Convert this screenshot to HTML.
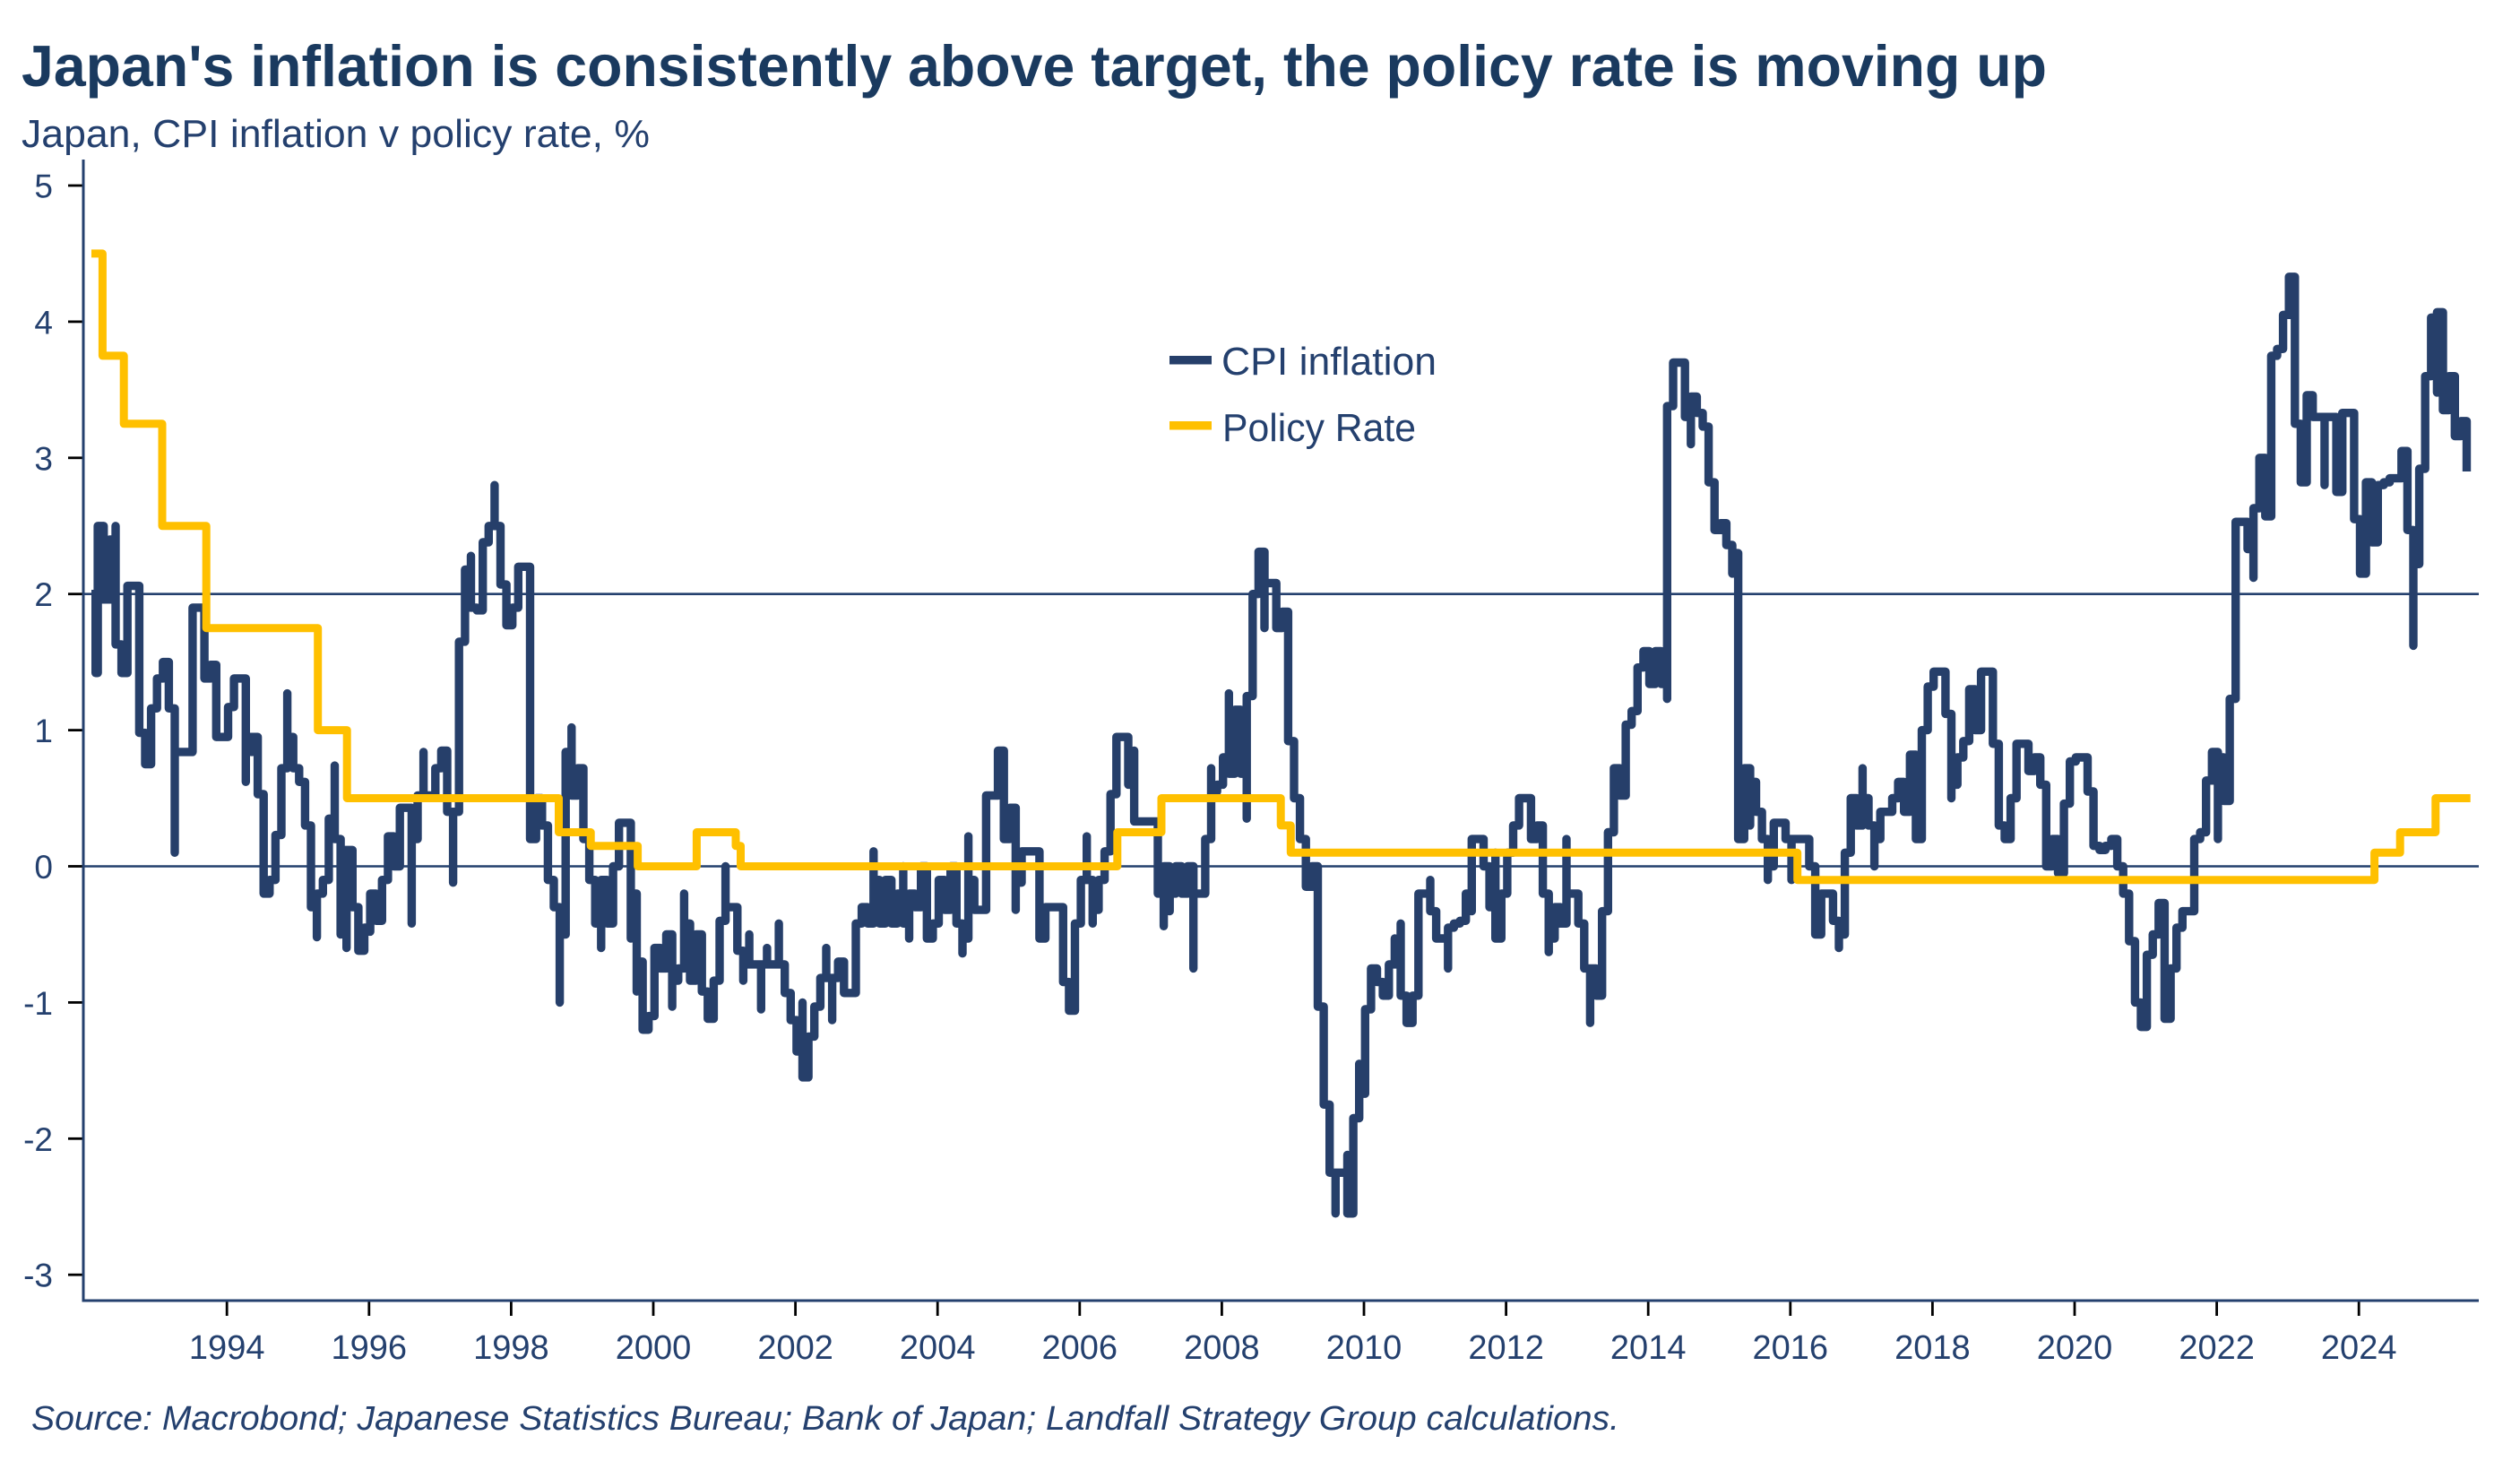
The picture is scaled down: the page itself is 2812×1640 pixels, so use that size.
<!DOCTYPE html>
<html lang="en">
<head>
<meta charset="utf-8">
<title>Japan's inflation is consistently above target</title>
<style>
html,body{margin:0;padding:0;background:#fff;}
body{width:2812px;height:1640px;overflow:hidden;}
svg{display:block;}
text{font-family:"Liberation Sans",sans-serif;fill:#24406e;}
</style>
</head>
<body>
<svg id="chart" width="2812" height="1640" viewBox="0 0 2812 1640" xmlns="http://www.w3.org/2000/svg">
  <rect x="0" y="0" width="2812" height="1640" fill="#ffffff"/>
  <text x="24" y="96" font-size="65" font-weight="700" style="fill:#1a3a5f" textLength="2260" lengthAdjust="spacingAndGlyphs">Japan's inflation is consistently above target, the policy rate is moving up</text>
  <text x="24" y="164" font-size="44" textLength="701" lengthAdjust="spacingAndGlyphs">Japan, CPI inflation v policy rate, %</text>
  <g id="grid"></g>
  <g id="yticks"></g>
  <g id="xticks"></g>
  <line x1="93" y1="178" x2="93" y2="1452.5" stroke="#24406e" stroke-width="3"/>
  <line x1="91.5" y1="1451" x2="2766" y2="1451" stroke="#24406e" stroke-width="3"/>
  <g id="series"></g>
  <g>
    <g>
      <rect x="1305" y="397" width="47" height="9.5" fill="#263f6a"/>
      <text x="1363" y="418" font-size="44" textLength="240" lengthAdjust="spacingAndGlyphs">CPI inflation</text>
    </g>
    <g>
      <rect x="1305" y="470" width="47" height="9.5" fill="#ffc000"/>
      <text x="1364" y="492" font-size="44" textLength="216" lengthAdjust="spacingAndGlyphs">Policy Rate</text>
    </g>
  </g>
  <text x="35" y="1595" font-size="38" font-style="italic" textLength="1772" lengthAdjust="spacingAndGlyphs">Source: Macrobond; Japanese Statistics Bureau; Bank of Japan; Landfall Strategy Group calculations.</text>
</svg>
<script>
// Chart data
const yTickValues = [5, 4, 3, 2, 1, 0, -1, -2, -3];
const referenceValues = [2, 0];
const xTickYears = [1994, 1996, 1998, 2000, 2002, 2004, 2006, 2008, 2010, 2012, 2014, 2016, 2018, 2020, 2022, 2024];

const seriesStartYear = 1992.093;
const cpiFirstYear = 1992.10;
const cpiOpening = 2.0;
// One reading per month
const cpiValues = [
1.42,2.5,1.96,2.4,1.63,1.42,2.06,2.06,.98,.75,
1.16,1.38,1.5,1.16,.84,.84,.84,1.9,1.9,1.38,
1.48,.95,.95,1.17,1.38,1.38,.95,.95,.53,-.2,
-.1,.23,.72,.95,.72,.62,.3,-.3,-.2,-.1,
.35,.2,.12,.12,-.3,-.62,-.45,-.2,-.4,-.1,
.22,0,.43,.43,.2,.52,.52,.52,.72,.85,
.4,.4,1.65,2.18,1.9,1.88,2.38,2.5,2.5,2.07,
1.77,1.9,2.2,2.2,.2,.5,.3,-.1,-.3,-.5,
.84,.52,.72,.2,-.1,-.42,-.1,-.42,0,.32,
.32,-.2,-.7,-1.2,-1.1,-.6,-.75,-.5,-.84,-.75,
-.42,-.84,-.5,-.92,-1.12,-.84,-.4,-.3,-.3,-.62,
-.72,-.72,-.72,-.72,-.72,-.72,-.72,-.93,-1.13,-1.36,
-1.55,-1.25,-1.03,-.82,-.82,-.82,-.7,-.93,-.93,-.42,
-.3,-.42,-.1,-.42,-.1,-.42,-.2,-.42,-.2,-.3,
0,-.53,-.42,-.1,-.32,0,-.42,-.53,-.1,-.32,
-.32,.52,.52,.85,.2,.43,-.12,.11,.11,.11,
-.53,-.3,-.3,-.3,-.85,-1.06,-.42,-.1,-.1,-.32,
-.1,.11,.53,.95,.95,.6,.33,.33,.33,.33,
-.2,0,-.2,0,-.2,0,-.2,-.2,.2,.55,
.6,.8,.68,1.15,.68,1.25,2,2.31,2.08,2.08,
1.75,1.87,.92,.5,.2,-.15,0,-1.03,-1.75,-2.25,
-2.25,-2.25,-2.55,-1.85,-1.67,-1.05,-.75,-.85,-.95,-.72,
-.72,-.95,-1.15,-.95,-.2,-.2,-.33,-.53,-.53,-.45,
-.42,-.4,-.2,.2,.2,0,-.3,-.53,-.2,.1,
.3,.5,.5,.2,.3,-.2,-.53,-.3,-.42,-.2,
-.2,-.42,-.75,-.75,-.95,-.33,.25,.72,.52,1.04,
1.14,1.46,1.58,1.34,1.58,1.34,3.38,3.7,3.7,3.3,
3.45,3.33,3.23,2.82,2.47,2.52,2.36,2.3,.2,.72,
.62,.4,.2,0,.32,.32,.2,.2,.2,.2,
0,-.5,-.2,-.2,-.4,-.5,.1,.5,.3,.5,
.3,.2,.4,.4,.5,.62,.4,.82,.2,1.0,
1.32,1.43,1.43,1.12,.6,.8,.92,1.3,1,1.43,
1.43,.9,.3,.2,.5,.9,.9,.7,.8,.6,
0,.2,-.05,.46,.77,.8,.8,.55,.15,.12,
.15,.2,0,-.2,-.55,-1,-1.18,-.65,-.5,-.27,
-1.12,-.75,-.45,-.33,-.33,.2,.25,.63,.84,.8,
.48,1.23,2.53,2.53,2.33,2.63,3,2.57,3.75,3.8,
4.05,4.33,3.25,2.82,3.46,3.3,3.3,3.3,3.3,2.75,
3.33,3.33,2.55,2.15,2.82,2.38,2.8,2.82,2.85,2.85,
3.05,2.47,2.22,2.92,3.6,4.03,4.07,3.35,3.6,3.16,
3.27,2.9
];
// Brief readings between months: month number, value
const cpiSpikeMonths = [4,14,26,27,33,38,41,42,43,47,54,56,61,64,68,79,81,86,91,92,98,100,107,110,111,113,114,116,120,124,125,132,137,138,147,148,156,168,169,176,181,182,186,189,192,195,198,210,212,213,214,220,221,226,229,233,237,246,249,253,266,270,277,280,283,287,295,299,301,314,359,365,374,377,392,396];
const cpiSpikeValues = [2.5,.1,.62,.84,1.27,-.52,.74,-.5,-.6,-.48,-.42,.84,-.12,2.28,2.8,-1,1.02,-.6,-.53,-.92,-1.03,-.2,0,-.84,-.5,-1.05,-.6,-.42,-1,-.6,-1.13,.11,0,-.53,-.64,.22,-.32,.22,-.42,.85,-.44,-.33,-.75,.72,1.27,.35,1.75,-2.55,-2.12,-2.55,-1.45,-.53,-.42,-.1,-.75,-.33,.1,-.63,.2,-1.15,1.23,3.1,2.15,.3,-.1,-.1,-.6,.72,0,.5,.2,2.12,2.82,2.8,1.62,3.48];

const policyYears = [1992.093,1992.25,1992.55,1993.09,1993.71,1995.28,1995.69,1998.67,1999.12,1999.78,2000.61,2001.16,2001.23,2006.53,2007.15,2008.83,2008.97,2016.10,2024.22,2024.58,2025.08];
const policyValues = [4.5,3.75,3.25,2.5,1.75,1.0,0.5,0.25,0.15,0,0.25,0.15,0,0.25,0.5,0.3,0.1,-0.1,0.1,0.25,0.5];
const policyEndYear = 2025.57;

// Axis functions
const xScale = function (year) { return 253.2 + (year - 1994) * 79.3; };
const yScale = function (value) { return 966.5 - value * 151.9; };

const NS = 'http://www.w3.org/2000/svg';
function make(tag, attrs, text) {
  const el = document.createElementNS(NS, tag);
  for (const k in attrs) el.setAttribute(k, attrs[k]);
  if (text !== undefined) el.textContent = text;
  return el;
}

const grid = document.getElementById('grid');
referenceValues.forEach(function (v) {
  const line = make('line', { x1: 93, x2: 2766, y1: yScale(v), y2: yScale(v), stroke: '#24406e', 'stroke-width': 2.6 });
  
  
  grid.appendChild(line);
});

const yTicks = document.getElementById('yticks');
yTickValues.forEach(function (v) {
  const tick = make('line', { x1: 76, x2: 92, y1: yScale(v), y2: yScale(v), stroke: '#000000', 'stroke-width': 2.8 });
  
  
  yTicks.appendChild(tick);
  const label = make('text', { x: 59, y: yScale(v) + 13.5, 'font-size': 37, 'text-anchor': 'end' }, String(v));
  
  
  yTicks.appendChild(label);
});

const xTicks = document.getElementById('xticks');
xTickYears.forEach(function (yr) {
  const tick = make('line', { x1: xScale(yr), x2: xScale(yr), y1: 1452, y2: 1468, stroke: '#000000', 'stroke-width': 2.8 });
  
  
  xTicks.appendChild(tick);
  const label = make('text', { x: xScale(yr), y: 1516, 'font-size': 38, 'text-anchor': 'middle' }, String(yr));
  
  
  xTicks.appendChild(label);
});

const series = document.getElementById('series');

// CPI step line
const spikeLookup = {};
cpiSpikeMonths.forEach(function (m, k) {
  (spikeLookup[m] = spikeLookup[m] || []).push(cpiSpikeValues[k]);
});
const cpiLeftEdge = xScale(seriesStartYear);
let cpiPath = 'M' + cpiLeftEdge.toFixed(1) + ' ' + yScale(cpiOpening).toFixed(1);
cpiValues.forEach(function (v, i) {
  cpiPath += 'H' + Math.max(xScale(cpiFirstYear + i / 12), cpiLeftEdge + 4.7).toFixed(1);
  (spikeLookup[i] || []).forEach(function (s) {
    cpiPath += 'V' + yScale(s).toFixed(1);
  });
  cpiPath += 'V' + yScale(v).toFixed(1);
});
const cpiLine = make('path', { d: cpiPath, fill: 'none', stroke: '#263f6a', 'stroke-width': 9.4, 'stroke-linejoin': 'round', 'stroke-linecap': 'butt' });


series.appendChild(cpiLine);

// Policy rate step line
let policyPath = '';
policyValues.forEach(function (v, i) {
  if (i === 0) {
    policyPath += 'M' + xScale(policyYears[i]).toFixed(1) + ' ' + yScale(v).toFixed(1);
  } else {
    policyPath += 'H' + xScale(policyYears[i]).toFixed(1) + 'V' + yScale(v).toFixed(1);
  }
});
policyPath += 'H' + xScale(policyEndYear).toFixed(1);
const policyLine = make('path', { d: policyPath, fill: 'none', stroke: '#ffc000', 'stroke-width': 9, 'stroke-linejoin': 'round', 'stroke-linecap': 'butt' });


series.appendChild(policyLine);
</script>
</body>
</html>
